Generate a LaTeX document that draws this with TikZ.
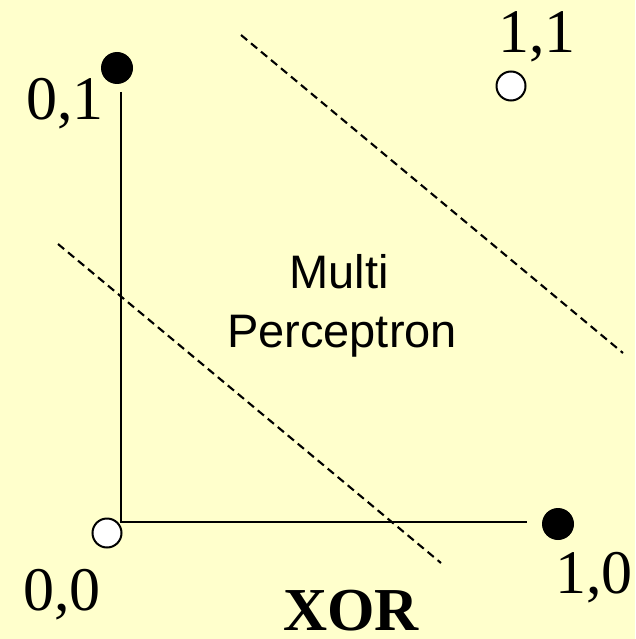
\documentclass[tikz,border=0pt]{standalone}
\usepackage{fontspec}
\setmainfont{Liberation Serif}
\newfontfamily\labelsans{Liberation Sans}
\begin{document}
\begin{tikzpicture}[x=1pt,y=-1pt,
  dotblack/.style={circle,fill=black,draw=none,minimum size=32pt,inner sep=0pt},
  dotwhite/.style={circle,fill=white,draw=black,line width=2pt,minimum size=29pt,inner sep=0pt},
  axisline/.style={line width=2.4pt,draw=black},
  sepline/.style={line width=2.1pt,dash pattern=on 8pt off 5pt},
  numlabel/.style={anchor=base,inner sep=0pt,font=\fontsize{62}{62}\selectfont},
  titlelabel/.style={anchor=base,inner sep=0pt,font=\fontsize{61}{61}\selectfont\bfseries},
  sanslabel/.style={anchor=base,inner sep=0pt,font=\labelsans\fontsize{47}{47}\selectfont}]
\definecolor{bgyellow}{HTML}{FFFFCC}
\fill[bgyellow] (0,0) rectangle (635,639);
\useasboundingbox (0,0) rectangle (635,639);
% axes
\coordinate (origin) at (121,522);
\coordinate (ytop) at (121,92);
\coordinate (xend) at (527,522);
\draw[axisline] (ytop) -- (origin) -- (xend);
% separating lines
\coordinate (s1a) at (241,35);
\coordinate (s1b) at (623,353);
\coordinate (s2a) at (58,244);
\coordinate (s2b) at (441,563);
\draw[sepline] (s1a) -- (s1b);
\draw[sepline] (s2a) -- (s2b);
% points
\node[dotblack] (p01) at (117,68) {};
\node[dotwhite] (p11) at (511,86) {};
\node[dotwhite] (p00) at (107,533) {};
\node[dotblack] (p10) at (558,524) {};
% labels
\node[numlabel] (l01) at (65,120) {0,1};
\node[numlabel] (l11) at (537,53) {1,1};
\node[numlabel] (l00) at (62,610) {0,0};
\node[numlabel] (l10) at (594,593) {1,0};
\node[titlelabel] (xor) at (351,630) {XOR};
\node[sanslabel] (multi) at (339,288) {Multi};
\node[sanslabel] (perc) at (342,347) {Perceptron};
\end{tikzpicture}
\end{document}
